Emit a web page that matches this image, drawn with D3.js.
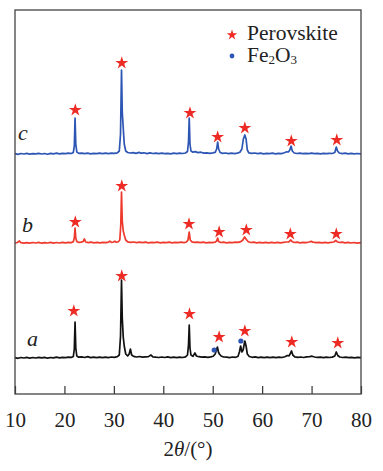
<!DOCTYPE html>
<html>
<head>
<meta charset="utf-8">
<script src="https://cdn.jsdelivr.net/npm/d3@7"></script>
<style>
  body { margin: 0; background: #fff; }
  svg text { font-family: "Liberation Serif", "Times New Roman", "DejaVu Serif", serif; }
</style>
</head>
<body>
<div id="chart"></div>
<script>
// XRD patterns, offset vertically; intensity in arbitrary units

const xTicks = [10, 20, 30, 40, 50, 60, 70, 80];
const sampleNames = ["a", "b", "c"];
const sampleColors = ["#111111", "#ee3a2c", "#2d55b4"];
const offsets = [36, 151, 240];

const aPattern = [
  [10,0.4],[10.6,-0.3],[11.2,0.5],[11.8,0],[12.4,0.6],[13,-0.2],[13.6,0.5],[14.2,0],[14.8,0.7],[15.4,0.1],
  [16,0.6],[16.6,-0.2],[17.2,0.5],[17.8,0.1],[18.4,0.8],[19,0.2],[19.6,0.7],[20.2,0.3],[20.8,0.9],[21.4,0.6],
  [21.8,1.5],[22.0,9],[22.15,36],[22.3,10],[22.5,2],[22.9,0.8],[23.5,1.2],[24.1,0.5],[24.7,1.4],[25.3,0.4],
  [25.9,0.9],[26.5,0.4],[27.1,0.9],[27.7,0.3],[28.3,0.8],[28.9,0.4],[29.5,1],[30.1,0.7],[30.7,1.3],[31.1,3],
  [31.35,22],[31.55,78],[31.7,40],[31.9,21],[32.1,12],[32.4,4],[32.8,2],[33.1,4],[33.35,9],[33.6,3],
  [34.0,1.6],[34.6,1],[35.2,1.5],[35.8,0.8],[36.4,1.2],[37.0,1.4],[37.5,3],[37.9,1.2],[38.5,0.8],[39.1,0.5],
  [39.7,1],[40.3,0.5],[40.9,1.1],[41.5,0.4],[42.1,0.9],[42.7,0.3],[43.3,0.8],[43.9,0.5],[44.5,1.1],[44.9,3],
  [45.1,13],[45.25,33],[45.4,10],[45.6,3],[46.0,1.6],[46.4,5],[46.7,2],[47.2,1.3],[47.8,0.8],[48.4,1.2],
  [49.0,0.6],[49.6,1.1],[50.1,1.8],[50.5,4],[50.75,8],[50.95,11],[51.15,6],[51.35,4],[51.7,2],[52.2,1],
  [52.8,0.8],[53.4,0.4],[54.0,1],[54.6,0.7],[55.1,1.5],[55.4,6],[55.65,12],[55.9,6],[56.15,8],[56.5,17],
  [56.75,12],[57.0,4],[57.4,1.5],[58.0,0.7],[58.6,1.1],[59.2,0.4],[59.8,0.9],[60.4,0.3],[61.0,0.8],[61.6,0.4],
  [62.2,0.9],[62.8,0.3],[63.4,0.8],[64.0,0.5],[64.6,1.3],[65.1,2.5],[65.45,2.2],[65.75,5],[65.95,7],[66.2,3],
  [66.6,1.2],[67.2,0.6],[67.8,1],[68.4,0.5],[69.0,1.1],[69.6,1.4],[70.1,1.8],[70.6,1],[71.2,0.6],[71.8,0.9],
  [72.4,0.3],[73.0,0.8],[73.6,0.5],[74.2,0.9],[74.7,2],[75.0,6],[75.3,2.5],[75.7,1],[76.3,0.5],[76.9,0.9],
  [77.5,0.3],[78.1,0.7],[78.7,0.2],[79.3,0.6],[80,0.3]
];

const bPattern = [
  [10,0.2],[10.5,0.5],[10.9,2],[11.2,0.3],[11.8,-0.2],[12.4,0.4],[13,-0.1],[13.6,0.5],[14.2,0],[14.8,0.6],
  [15.4,-0.2],[16,0.4],[16.6,0],[17.2,0.6],[17.8,-0.1],[18.4,0.5],[19,0],[19.6,0.6],[20.2,0.2],[20.8,0.7],
  [21.4,0.4],[21.8,1.2],[22.0,5],[22.15,15],[22.3,5],[22.5,1.5],[22.9,0.6],[23.4,0.9],[23.8,1.5],[24.05,4],
  [24.3,1],[24.8,0.4],[25.4,0.8],[26,0.2],[26.6,0.7],[27.2,0.2],[27.8,0.7],[28.4,0.3],[28.9,0.9],[29.2,1.8],
  [29.5,0.6],[29.9,1],[30.2,1.8],[30.5,0.8],[30.9,1.3],[31.2,3],[31.4,18],[31.55,51],[31.7,22],[31.9,12],
  [32.1,8],[32.4,3],[32.8,1.2],[33.4,0.6],[34.0,1],[34.6,0.4],[35.2,0.9],[35.8,0.3],[36.4,0.8],[37.0,0.2],
  [37.6,0.7],[38.2,0.3],[38.8,0.8],[39.4,0.2],[40.0,0.7],[40.6,0.3],[41.2,0.8],[41.8,0.2],[42.4,0.7],[43.0,0.3],
  [43.6,0.8],[44.2,0.4],[44.7,1],[45.0,3],[45.25,11],[45.45,3],[45.8,1.2],[46.3,0.6],[46.9,0.9],[47.5,0.3],
  [48.1,0.8],[48.7,0.2],[49.3,0.7],[49.9,0.3],[50.5,0.9],[50.8,2],[51.0,5],[51.2,1.5],[51.6,0.5],[52.2,0.8],
  [52.8,0.2],[53.4,0.7],[54.0,0.3],[54.6,0.8],[55.2,0.6],[55.7,1.4],[56.1,3],[56.45,6],[56.8,3.5],[57.2,1.2],
  [57.7,0.5],[58.3,0.8],[58.9,0.2],[59.5,0.7],[60.1,0.2],[60.7,0.6],[61.3,0.1],[61.9,0.6],[62.5,0.2],[63.1,0.6],
  [63.7,0.2],[64.3,0.7],[64.9,1],[65.4,1.2],[65.8,3],[66.1,1.2],[66.5,0.5],[67.1,0.8],[67.7,0.2],[68.3,0.6],
  [68.9,0.4],[69.5,1],[69.9,1.6],[70.3,0.9],[70.9,0.4],[71.5,0.7],[72.1,0.1],[72.7,0.6],[73.3,0.2],[73.9,0.7],
  [74.5,1],[74.9,2.5],[75.2,1.2],[75.6,0.5],[76.2,0.8],[76.8,0.1],[77.4,0.6],[78.0,0],[78.6,0.5],[79.2,-0.1],
  [80,0.3]
];

const cPattern = [
  [10,0.3],[10.6,-0.4],[11.2,0.5],[11.8,0],[12.4,0.6],[13,-0.2],[13.6,0.4],[14.2,0.1],[14.8,0.7],[15.4,0],
  [16,0.5],[16.6,-0.3],[17.2,0.6],[17.8,0.2],[18.4,0.8],[19,0.1],[19.6,0.6],[20.2,0.3],[20.8,0.9],[21.4,0.5],
  [21.8,1.5],[22.0,8],[22.15,36],[22.3,10],[22.5,2],[22.9,0.6],[23.5,0.9],[24.1,0.3],[24.7,0.8],[25.3,0.2],
  [25.9,0.7],[26.5,0.3],[27.1,0.9],[27.7,0.4],[28.3,0.8],[28.9,0.3],[29.5,0.9],[30.1,0.6],[30.7,1.2],[31.1,3],
  [31.35,20],[31.55,84],[31.7,42],[31.9,26],[32.1,10],[32.4,3],[32.8,1.5],[33.3,1],[33.9,1.4],[34.5,0.6],
  [35.1,1.6],[35.5,0.8],[36.1,1.2],[36.7,0.4],[37.3,1.1],[37.9,0.5],[38.5,0.9],[39.1,0.3],[39.7,0.8],[40.3,0.4],
  [40.9,0.7],[41.5,0.2],[42.1,0.8],[42.7,0.3],[43.3,0.9],[43.9,0.5],[44.5,1],[44.9,2.5],[45.1,12],[45.25,36],
  [45.4,10],[45.6,3],[46.0,1.8],[46.5,2.4],[47.0,1.4],[47.6,1.8],[48.2,0.9],[48.8,1.2],[49.4,0.6],[50.0,1.1],
  [50.5,1.6],[50.8,5],[51.0,12],[51.2,5],[51.5,1.5],[52.0,0.6],[52.6,1],[53.2,0.3],[53.8,0.8],[54.4,0.4],
  [55.0,0.9],[55.5,1.8],[55.9,5],[56.2,15],[56.5,19],[56.75,15],[57.0,4],[57.3,1.2],[57.9,0.6],[58.5,1],
  [59.1,0.3],[59.7,0.8],[60.3,0.2],[60.9,0.7],[61.5,0.3],[62.1,0.8],[62.7,0.2],[63.3,0.7],[63.9,0.4],[64.5,1.2],
  [65.0,2.2],[65.3,2],[65.6,4],[65.85,8],[66.1,3],[66.5,1],[67.0,0.5],[67.6,0.9],[68.2,0.3],[68.8,0.7],
  [69.4,0.4],[70.0,0.9],[70.6,0.3],[71.2,0.7],[71.8,0.2],[72.4,0.6],[73.0,0.3],[73.6,0.7],[74.2,0.5],[74.7,1.5],
  [75.0,7],[75.25,3],[75.6,1],[76.2,0.4],[76.8,0.8],[77.4,0.2],[78.0,0.6],[78.6,0.1],[79.2,0.5],[80,0.2]
];

// perovskite markers [2theta, height above own baseline]
const aStars = [[21.9,47],[31.6,82],[45.3,44],[51.3,21],[56.5,27],[66.0,16],[75.3,15]];
const bStars = [[22.2,21],[31.6,57],[45.2,19],[51.3,11],[56.8,13],[65.7,9],[75.0,9]];
const cStars = [[22.2,44],[31.6,91],[45.4,41],[51.0,17],[56.5,26],[65.9,13],[75.1,14]];
// Fe2O3 markers (sample a only)
const aDots = [[50.3,8],[55.7,17]];

const patterns = [aPattern, bPattern, cPattern];
const stars = [aStars, bStars, cStars];

const serif = "'Liberation Serif', 'Times New Roman', 'DejaVu Serif', serif";

const W = 383, H = 471;
const margin = { top: 10, right: 22, bottom: 77, left: 15 };
const width = W - margin.left - margin.right;
const height = H - margin.top - margin.bottom;

const svg = d3.select("#chart").append("svg")
  .attr("width", W)
  .attr("height", H)
  .style("display", "block");

const chart = svg.append("g")
  .attr("transform", `translate(${margin.left}, ${margin.top})`);

const x = d3.scaleLinear().domain([10, 80]).range([0, width]);
const y = d3.scaleLinear().domain([0, height]).range([height, 0]);

chart.append("defs").append("clipPath").attr("id", "clip")
  .append("rect").attr("width", width).attr("height", height);

const line = d3.line()
  .x(d => x(d[0]))
  .y(d => y(d[1]));

patterns.forEach((p, i) => {
  chart.append("path")
    .datum(p.map(d => [d[0], d[1] + offsets[i]]))
    .attr("clip-path", "url(#clip)")
    .attr("fill", "none")
    .attr("stroke", sampleColors[i])
    .attr("stroke-width", 1.7)
    .attr("stroke-linejoin", "round")
    .attr("d", line);
});

const star = d3.symbol().type(d3.symbolStar).size(52);

stars.forEach((s, i) => {
  chart.selectAll(null)
    .data(s)
    .enter()
    .append("path")
    .attr("d", star)
    .attr("fill", "#ee2a24")
    .attr("transform", d => `translate(${x(d[0])}, ${y(d[1] + offsets[i])})`);
});

chart.selectAll(null)
  .data(aDots)
  .enter()
  .append("circle")
  .attr("cx", d => x(d[0]))
  .attr("cy", d => y(d[1] + offsets[0]))
  .attr("r", 2.6)
  .attr("fill", "#2d55b4");

// sample labels
const labelPos = [[27, 346], [22, 232], [18, 140]];
sampleNames.forEach((n, i) => {
  svg.append("text")
    .attr("x", labelPos[i][0])
    .attr("y", labelPos[i][1])
    .style("font-family", serif)
    .attr("font-size", 22)
    .attr("font-style", "italic")
    .attr("fill", "#222")
    .text(n);
});

// bottom axis with inward ticks
const xAxis = chart.append("g")
  .attr("transform", `translate(0, ${height})`)
  .call(d3.axisBottom(x).tickValues(xTicks).tickSizeInner(-8).tickSizeOuter(0).tickPadding(18));
xAxis.attr("font-family", null);
xAxis.select(".domain").remove();
xAxis.selectAll("line").attr("stroke", "#333").attr("stroke-width", 1.2);
xAxis.selectAll("text")
  .style("font-family", serif)
  .attr("font-size", 21)
  .attr("fill", "#222");

// frame
chart.append("rect")
  .attr("width", width)
  .attr("height", height)
  .attr("fill", "none")
  .attr("stroke", "#444")
  .attr("stroke-width", 1.3);

// axis title
const title = svg.append("text")
  .attr("x", margin.left + width / 2)
  .attr("y", 456)
  .attr("text-anchor", "middle")
  .style("font-family", serif)
  .attr("font-size", 21)
  .attr("fill", "#222");
title.append("tspan").text("2");
title.append("tspan").attr("font-style", "italic").text("θ");
title.append("tspan").text("/(°)");

// legend
const legend = svg.append("g").attr("transform", "translate(232, 0)");
legend.append("path")
  .attr("d", d3.symbol().type(d3.symbolStar).size(34))
  .attr("transform", "translate(0, 35)")
  .attr("fill", "#ee2a24");
legend.append("circle")
  .attr("cx", 0).attr("cy", 56).attr("r", 2.4)
  .attr("fill", "#2d55b4");
legend.append("text")
  .attr("x", 15).attr("y", 40)
  .style("font-family", serif)
  .attr("font-size", 21.5)
  .attr("fill", "#222")
  .text("Perovskite");
const fe = legend.append("text")
  .attr("x", 15).attr("y", 62)
  .style("font-family", serif)
  .attr("font-size", 21.5)
  .attr("fill", "#222");
fe.append("tspan").text("Fe");
fe.append("tspan").attr("font-size", 13).attr("dy", 2).text("2");
fe.append("tspan").attr("dy", -2).text("O");
fe.append("tspan").attr("font-size", 13).attr("dy", 2).text("3");
</script>
</body>
</html>
